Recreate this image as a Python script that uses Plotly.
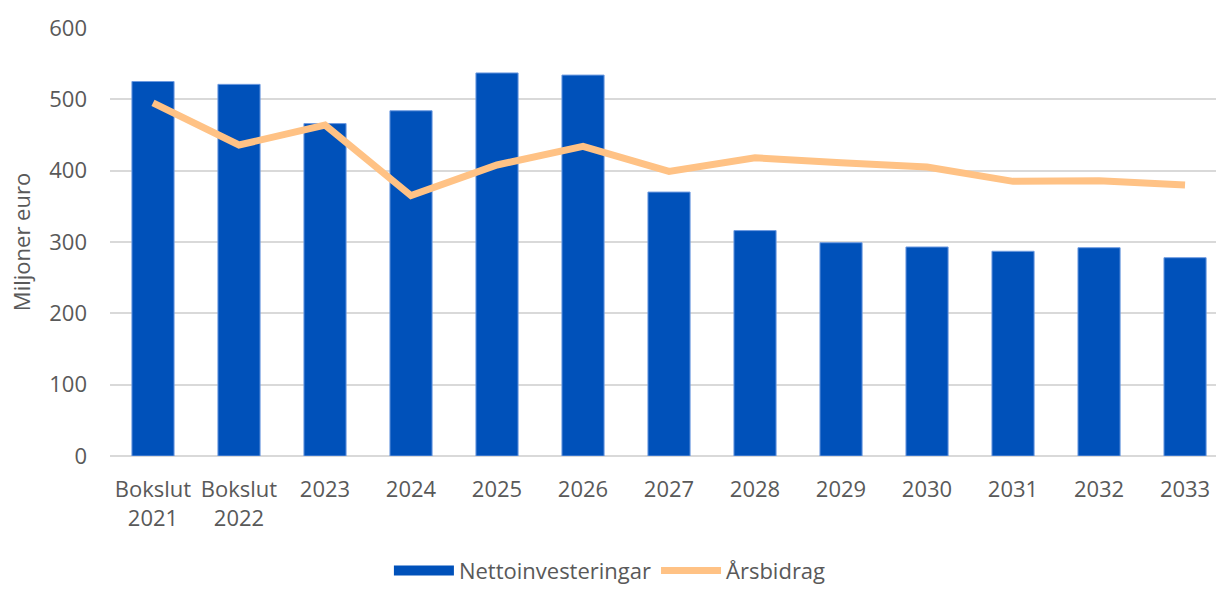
import plotly.graph_objects as go

categories = ["Bokslut<br>2021", "Bokslut<br>2022", "2023", "2024", "2025", "2026",
              "2027", "2028", "2029", "2030", "2031", "2032", "2033"]
nettoinvesteringar = [525, 521, 466, 484, 537, 534, 370, 316, 299, 293, 287, 292, 278]
arsbidrag = [495, 436, 464, 365, 408, 434, 399, 418, 411, 405, 385, 386, 380]
y_ticks = [0, 100, 200, 300, 400, 500, 600]

FONT = "Open Sans"
TXT = "#595959"
BLUE = "#0051BA"
ORANGE = "#FFC285"

fig = go.Figure()
fig.add_trace(go.Bar(
    x=categories, y=nettoinvesteringar, name="Nettoinvesteringar", showlegend=False,
    marker=dict(color=BLUE, line=dict(color="#6E9BE0", width=1)),
))
# legend-only entry to mimic the wide rectangular legend key
fig.add_trace(go.Scatter(
    x=[None], y=[None], name="Nettoinvesteringar", mode="lines",
    line=dict(color=BLUE, width=15),
))
fig.add_trace(go.Scatter(
    x=categories, y=arsbidrag, name="Årsbidrag", mode="lines",
    line=dict(color=ORANGE, width=7),
))

fig.update_layout(
    width=1216, height=590,
    margin=dict(l=110, r=0, t=28, b=134, autoexpand=False),
    paper_bgcolor="white", plot_bgcolor="white",
    font=dict(family=FONT, size=22, color=TXT),
    bargap=0.51,
    showlegend=True,
    legend=dict(orientation="h", x=0.452, xanchor="center", y=-0.268, yanchor="middle",
                font=dict(size=22, color=TXT), itemwidth=60, traceorder="normal"),
    xaxis=dict(type="category", range=[-0.5, 12.36], showgrid=False, showline=False,
               ticks="", tickfont=dict(size=22, color=TXT), tickangle=0,
               ticklabelstandoff=18, automargin=False),
    yaxis=dict(range=[0, 600], tickvals=y_ticks, showgrid=True, gridcolor="#D9D9D9",
               gridwidth=1.5, zeroline=True, zerolinecolor="#D9D9D9", zerolinewidth=1.5,
               showline=False, ticks="", tickfont=dict(size=22, color=TXT),
               ticklabelstandoff=22, automargin=False,
               title=dict(text="Miljoner euro", font=dict(size=22, color=TXT), standoff=12)),
)

fig.write_html("out.html", config={"displayModeBar": False},
               post_script="document.body.style.margin='0px';")
